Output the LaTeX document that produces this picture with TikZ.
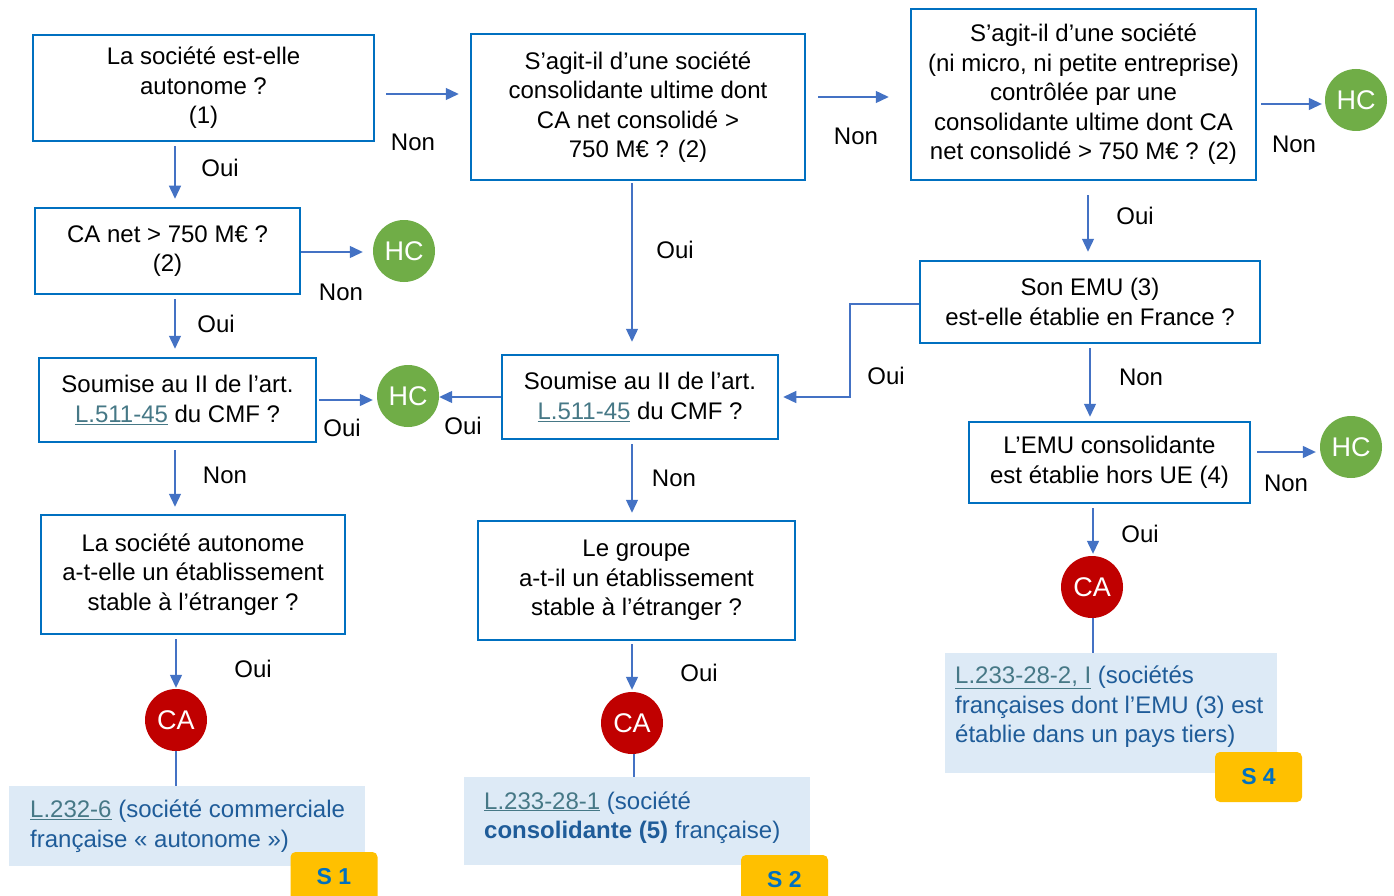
\documentclass[tikz,border=0pt]{standalone}
\usepackage{fontspec}
\setmainfont{Liberation Sans}
\usetikzlibrary{arrows.meta}
\definecolor{bxc}{HTML}{0070C0}
\definecolor{arc}{HTML}{4472C4}
\definecolor{hcg}{HTML}{70AD47}
\definecolor{cared}{HTML}{C00000}
\definecolor{lbfill}{HTML}{DDEAF6}
\definecolor{lbtext}{HTML}{1F5C99}
\definecolor{lnk}{HTML}{467886}
\definecolor{ylw}{HTML}{FFC000}
\begin{document}
\begin{tikzpicture}[x=1pt,y=-1pt,
  font=\fontsize{24}{29.5}\selectfont,
  qbox/.style={draw=bxc, line width=2.5pt, align=center, inner sep=0pt},
  arr/.style={draw=arc, line width=1.3pt, -{Triangle[length=13pt,width=12pt]}},
  ln/.style={draw=arc, line width=1.3pt},
  lbl/.style={inner sep=0pt},
  hc/.style={circle, fill=hcg, text=white, minimum size=62pt, inner sep=0pt, font=\fontsize{27}{30}\selectfont},
  ca/.style={circle, fill=cared, text=white, minimum size=62pt, inner sep=0pt, font=\fontsize{27}{30}\selectfont},
  lbox/.style={fill=lbfill, inner sep=0pt},
  ltext/.style={anchor=west, align=left, inner sep=0pt, text=lbtext},
  stag/.style={fill=ylw, rounded corners=5pt, minimum width=87pt, minimum height=50pt, inner sep=0pt, text=bxc, font=\fontsize{23}{26}\selectfont\bfseries}
]
\clip (0,0) rectangle (1394,896);
\fill[white] (0,0) rectangle (1394,896);

% question boxes
\node[qbox, minimum width=341pt, minimum height=106pt] (b1) at (203.5,88) {La société est-elle\\autonome ?\\(1)};
\node[qbox, minimum width=334pt, minimum height=146pt] (b2) at (638,107) {S’agit-il d’une société\\consolidante ultime dont\\CA net consolidé >\\750 M€ ? (2)};
\node[qbox, minimum width=345pt, minimum height=171pt] (b3) at (1083.5,94.5) {S’agit-il d’une société\\(ni micro, ni petite entreprise)\\contrôlée par une\\consolidante ultime dont CA\\net consolidé > 750 M€ ? (2)};
\node[qbox, minimum width=265pt, minimum height=86pt] (b4) at (167.5,251) {CA net > 750 M€ ?\\(2)};
\node[qbox, minimum width=277pt, minimum height=84pt] (b5) at (177.5,400) {Soumise au II de l’art.\\\textcolor{lnk}{\underline{L.511-45}} du CMF ?};
\node[qbox, minimum width=276pt, minimum height=84pt] (b6) at (640,397) {Soumise au II de l’art.\\\textcolor{lnk}{\underline{L.511-45}} du CMF ?};
\node[qbox, minimum width=340pt, minimum height=82pt] (b7) at (1090,302) {Son EMU (3)\\est-elle établie en France ?};
\node[qbox, minimum width=281pt, minimum height=81pt] (b8) at (1109.5,462.5) {L’EMU consolidante\\est établie hors UE (4)};
\node[qbox, minimum width=304pt, minimum height=119pt] (b9) at (193,574.5) {La société autonome\\a-t-elle un établissement\\stable à l’étranger ?};
\node[qbox, minimum width=317pt, minimum height=119pt] (b10) at (636.5,580.5) {Le groupe\\a-t-il un établissement\\stable à l’étranger ?};

% terminal circles
\node[hc] (hc1) at (1356,100) {HC};
\node[hc] (hc2) at (404,251) {HC};
\node[hc] (hc3) at (408,396) {HC};
\node[hc] (hc4) at (1351,447) {HC};
\node[ca] (ca1) at (176,720) {CA};
\node[ca] (ca2) at (632,723) {CA};
\node[ca] (ca3) at (1092,587) {CA};

% result boxes
\node[lbox, minimum width=356pt, minimum height=80pt] (s1) at (187,826) {};
\node[ltext] (s1t) at (30,826) {\textcolor{lnk}{\underline{L.232-6}} (société commerciale\\française « autonome »)};
\node[lbox, minimum width=346pt, minimum height=88pt] (s2) at (637,821) {};
\node[ltext] (s2t) at (484,817.5) {\textcolor{lnk}{\underline{L.233-28-1}} (société\\\textbf{consolidante (5)} française)};
\node[lbox, minimum width=332pt, minimum height=120pt] (s4) at (1111,713) {};
\node[ltext] (s4t) at (955,707) {\textcolor{lnk}{\underline{L.233-28-2, I}} (sociétés\\françaises dont l’EMU (3) est\\établie dans un pays tiers)};

\node[stag] (t1) at (334,877) {S 1};
\node[stag] (t2) at (784.5,880) {S 2};
\node[stag] (t4) at (1258.5,777) {S 4};

% connectors
\draw[arr, shorten <=11pt, shorten >=11pt] (b1.east |- 0,94) -- (b2.west |- 0,94);
\draw[arr, shorten <=12pt, shorten >=21pt] (b2.east |- 0,97) -- (b3.west |- 0,97);
\draw[arr, shorten <=4pt, shorten >=3pt] (b3.east |- 0,104) -- (hc1.west |- 0,104);
\draw[arr, shorten <=4pt, shorten >=8pt] (b1.south -| 175,0) -- (b4.north -| 175,0);
\draw[arr, shorten >=10pt] (b4.east |- 0,252) -- (hc2.west |- 0,252);
\draw[arr, shorten <=4pt, shorten >=8pt] (b4.south -| 175,0) -- (b5.north -| 175,0);
\draw[arr, shorten <=2pt, shorten >=4pt] (b5.east |- 0,400) -- (hc3.west |- 0,400);
\draw[arr] (b6.west |- 0,397) -- (hc3.east |- 0,397);
\draw[arr, shorten <=7pt, shorten >=7pt] (b5.south -| 175,0) -- (b9.north -| 175,0);
\draw[arr, shorten <=4pt, shorten >=1pt] (b9.south -| 176,0) -- (ca1.north -| 176,0);
\draw[ln] (ca1.south) -- (s1.north -| ca1.south);
\draw[arr, shorten <=2pt, shorten >=12pt] (b2.south -| 632,0) -- (b6.north -| 632,0);
\draw[arr, shorten <=4pt, shorten >=7pt] (b6.south -| 632,0) -- (b10.north -| 632,0);
\draw[arr, shorten <=3pt, shorten >=2pt] (b10.south -| 632,0) -- (ca2.north);
\draw[ln] (ca2.south -| 634,0) -- (s2.north -| 634,0);
\draw[arr, shorten <=14pt, shorten >=8pt] (b3.south -| 1088,0) -- (b7.north -| 1088,0);
\draw[arr, shorten >=4pt] (b7.west |- 0,304) -- (850,304) -- (850,397) -- (b6.east |- 0,397);
\draw[arr, shorten <=4pt, shorten >=4pt] (b7.south -| 1090,0) -- (b8.north -| 1090,0);
\draw[arr, shorten <=6pt, shorten >=4pt] (b8.east |- 0,452) -- (hc4.west |- 0,452);
\draw[arr, shorten <=4pt, shorten >=2pt] (b8.south -| 1093,0) -- (ca3.north -| 1093,0);
\draw[ln] (ca3.south -| 1093,0) -- (s4.north -| 1093,0);

% labels
\node[lbl] (n1) at (413,142) {Non};
\node[lbl] (n2) at (856,136) {Non};
\node[lbl] (n3) at (1294,144) {Non};
\node[lbl] (o1) at (220,168) {Oui};
\node[lbl] (n4) at (341,292) {Non};
\node[lbl] (o2) at (216,324) {Oui};
\node[lbl] (o3) at (342,428) {Oui};
\node[lbl] (o4) at (463,426) {Oui};
\node[lbl] (n5) at (225,475) {Non};
\node[lbl] (o5) at (253,669) {Oui};
\node[lbl] (o6) at (675,250) {Oui};
\node[lbl] (n6) at (674,478) {Non};
\node[lbl] (o7) at (699,673) {Oui};
\node[lbl] (o8) at (1135,216) {Oui};
\node[lbl] (o9) at (886,376) {Oui};
\node[lbl] (n7) at (1141,377) {Non};
\node[lbl] (n8) at (1286,483) {Non};
\node[lbl] (o10) at (1140,534) {Oui};
\end{tikzpicture}
\end{document}
